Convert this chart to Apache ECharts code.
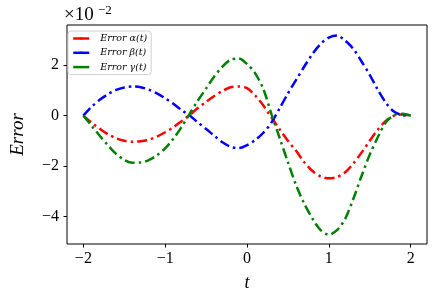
<!DOCTYPE html>
<html>
<head>
<meta charset="utf-8">
<script src="https://cdn.jsdelivr.net/npm/echarts@6/dist/echarts.min.js"></script>
<style>html,body{margin:0;padding:0;background:#fff}#c{width:436px;height:300px}</style>
</head>
<body>
<div id="c"></div>
<script>
// t values
const tValues = [-2.0,-1.9,-1.8,-1.7,-1.6,-1.5,-1.4,-1.3,-1.2,-1.1,-1.0,-0.9,-0.8,-0.7,-0.6,-0.5,-0.4,-0.3,-0.2,-0.1,0.0,0.1,0.2,0.3,0.4,0.5,0.6,0.7,0.8,0.9,1.0,1.1,1.2,1.3,1.4,1.5,1.6,1.7,1.8,1.9,2.0];
// errors in units of 1e-2
const errAlpha = [0,-0.28,-0.52,-0.74,-0.90,-1.00,-1.04,-1.02,-0.96,-0.83,-0.66,-0.46,-0.22,0.03,0.30,0.55,0.78,0.98,1.13,1.16,1.09,0.80,0.40,-0.08,-0.55,-1.00,-1.40,-1.85,-2.20,-2.42,-2.49,-2.44,-2.25,-1.90,-1.47,-1.00,-0.55,-0.20,0.00,0.04,0];
const errBeta = [0,0.35,0.63,0.85,1.02,1.12,1.16,1.13,1.03,0.88,0.69,0.47,0.22,0.00,-0.27,-0.53,-0.80,-1.06,-1.24,-1.29,-1.17,-0.97,-0.68,-0.27,0.30,0.88,1.42,1.95,2.45,2.85,3.10,3.18,2.98,2.65,2.15,1.62,1.02,0.50,0.15,0.02,0];
const errGamma = [0,-0.40,-0.80,-1.18,-1.52,-1.76,-1.87,-1.86,-1.77,-1.57,-1.30,-0.92,-0.45,0.08,0.60,1.08,1.55,1.95,2.22,2.27,2.05,1.68,1.05,0.05,-0.90,-1.85,-2.76,-3.50,-4.09,-4.55,-4.73,-4.55,-4.10,-3.30,-2.40,-1.55,-0.85,-0.25,0.02,0.07,0];
const seriesNames = ['Error α(t)', 'Error β(t)', 'Error γ(t)'];
const xTicks = [-2,-1,0,1,2];
const yTicks = [-4,-2,0,2];

const colors = ['#ff0000','#0000ff','#008000'];
const serif = '"Liberation Serif", "DejaVu Serif", serif';
const fmt = v => v < 0 ? '\u2212' + Math.abs(v) : String(v);
const pairs = arr => tValues.map((t, i) => [t, arr[i]]);

const chart = echarts.init(document.getElementById('c'), null, {renderer: 'canvas'});
const mk = (name, arr, color) => ({
  name, type: 'line', data: pairs(arr), smooth: 0.3, symbol: 'none',
  lineStyle: {color, width: 2.5, type: [10, 4, 2.5, 4], cap: 'butt'},
  itemStyle: {color}
});
chart.setOption({
  animation: false,
  grid: {left: 63, right: 9, top: 25, bottom: 56, show: true, borderColor: '#000', borderWidth: 1, backgroundColor: 'transparent'},
  xAxis: {
    type: 'value', min: -2.2, max: 2.2,
    axisLine: {show: false, onZero: false},
    splitLine: {show: false},
    axisTick: {show: true, length: 3.5, lineStyle: {color: '#000'}, customValues: xTicks},
    axisLabel: {customValues: xTicks, formatter: fmt, color: '#000', fontFamily: serif, fontSize: 16, margin: 7},
    name: 't', nameLocation: 'middle', nameGap: 30,
    nameTextStyle: {fontFamily: serif, fontStyle: 'italic', fontSize: 18, color: '#000'}
  },
  yAxis: {
    type: 'value', min: -5.1, max: 3.6,
    axisLine: {show: false, onZero: false},
    splitLine: {show: false},
    axisTick: {show: true, length: 3.5, lineStyle: {color: '#000'}, customValues: yTicks},
    axisLabel: {customValues: yTicks, formatter: fmt, color: '#000', fontFamily: serif, fontSize: 16, margin: 8},
    name: 'Error', nameLocation: 'middle', nameGap: 40, nameRotate: 90,
    nameTextStyle: {fontFamily: serif, fontStyle: 'italic', fontSize: 19, color: '#000'}
  },
  legend: {
    orient: 'vertical', left: 68, top: 31,
    data: seriesNames,
    itemWidth: 16, itemHeight: 3, itemGap: 3.3,
    lineStyle: {type: 'solid', width: 2.5, cap: 'butt'},
    padding: [2, 4, 2, 4],
    borderColor: '#d0d0d0', borderWidth: 1, borderRadius: 3,
    backgroundColor: 'rgba(255,255,255,0.8)',
    textStyle: {fontFamily: '"DejaVu Serif", serif', fontStyle: 'italic', fontSize: 9.5, color: '#000', lineHeight: 11, padding: [0, 0, 0, 6]}
  },
  graphic: [
    {type: 'text', left: 64, top: 6, style: {text: '×10', fontFamily: serif, fontSize: 19, fill: '#000'}},
    {type: 'text', left: 98, top: 4, style: {text: '\u22122', fontFamily: serif, fontSize: 13, fill: '#000'}}
  ],
  series: [
    mk(seriesNames[0], errAlpha, colors[0]),
    mk(seriesNames[1], errBeta, colors[1]),
    mk(seriesNames[2], errGamma, colors[2])
  ]
});
</script>
</body>
</html>
